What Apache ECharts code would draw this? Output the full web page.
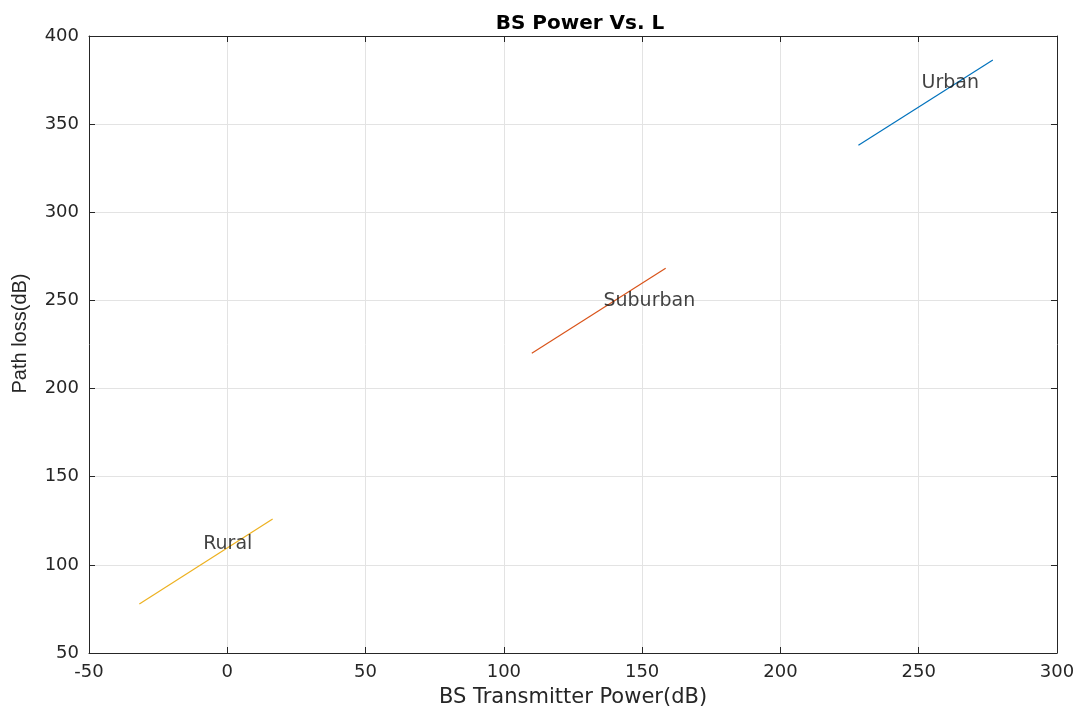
<!DOCTYPE html>
<html>
<head>
<meta charset="utf-8">
<script src="https://cdn.jsdelivr.net/npm/echarts@6/dist/echarts.min.js"></script>
<style>
  html, body { margin: 0; padding: 0; background: #fff; }
  #chart { width: 1078px; height: 709px; }
</style>
</head>
<body>
<div id="chart"></div>
<script>
// BS transmitter power vs. path loss, one short line per environment.

const areaNames = ["Urban", "Suburban", "Rural"];
const areaColors = ["#0072BD", "#D95319", "#EDB120"];

// [power (dB), path loss (dB)] end points
const urbanLine = [[228.2, 338.0], [276.8, 386.4]];
const suburbanLine = [[110.1, 220.0], [158.5, 268.2]];
const ruralLine = [[-31.8, 77.8], [16.4, 126.0]];

// where each text label sits (left edge, vertical middle)
const labelSpots = [[251, 373.3], [136, 249.8], [-8.7, 112]];

const xTicks = { min: -50, max: 300, interval: 50 };
const yTicks = { min: 50, max: 400, interval: 50 };

const textColor = "#262626";
const wideFont = "'DejaVu Sans', sans-serif";
const narrowFont = "'Liberation Sans', Arial, sans-serif";

const chart = echarts.init(document.getElementById("chart"));

function boxAxis(ticks, position, showLabels) {
  // One side of the MATLAB-style box: ticks point inward.
  return {
    type: "value",
    position,
    min: ticks.min,
    max: ticks.max,
    interval: ticks.interval,
    axisLine: { show: true, onZero: false, lineStyle: { color: textColor, width: 1 } },
    axisTick: { show: true, inside: true, length: 6, lineStyle: { color: textColor } },
    axisLabel: {
      show: showLabels,
      color: textColor,
      fontSize: 18,
      fontFamily: wideFont,
      margin: 10,
    },
    splitLine: { show: false },
  };
}

const xBottom = boxAxis(xTicks, "bottom", true);
xBottom.name = "BS Transmitter Power(dB)";
xBottom.nameLocation = "middle";
xBottom.nameGap = 34;
xBottom.nameTextStyle = { color: textColor, fontSize: 21, fontFamily: wideFont };
xBottom.splitLine = { show: true, lineStyle: { color: "#e3e3e3", width: 1 } };

const yLeft = boxAxis(yTicks, "left", true);
yLeft.name = "Path loss(dB)";
yLeft.nameLocation = "middle";
yLeft.nameGap = 59;
yLeft.nameTextStyle = {
  color: textColor,
  fontSize: 20,
  fontFamily: narrowFont,
  padding: [0, 0, 0, 22],
};
yLeft.splitLine = { show: true, lineStyle: { color: "#e3e3e3", width: 1 } };

const lines = [urbanLine, suburbanLine, ruralLine];

const lineSeries = lines.map((points, i) => ({
  name: areaNames[i],
  type: "line",
  data: points,
  showSymbol: false,
  symbol: "none",
  lineStyle: { color: areaColors[i], width: 1.2 },
  silent: true,
  z: 3,
}));

const labelSeries = {
  type: "scatter",
  data: labelSpots.map((p, i) => ({ value: p, name: areaNames[i] })),
  symbolSize: 0,
  silent: true,
  label: {
    show: true,
    position: "right",
    distance: 0,
    formatter: (p) => p.name,
    color: "#111",
    fontSize: 19,
    fontFamily: wideFont,
  },
  z: 4,
};

chart.setOption({
  backgroundColor: "#fff",
  animation: false,
  title: {
    text: "BS Power Vs. L",
    left: 575,
    textAlign: "center",
    top: 9,
    textStyle: { color: "#000", fontSize: 20, fontWeight: "bold", fontFamily: wideFont },
  },
  grid: { left: 89, right: 21, top: 36, bottom: 56, outerBoundsMode: "none" },
  xAxis: [xBottom, boxAxis(xTicks, "top", false)],
  yAxis: [yLeft, boxAxis(yTicks, "right", false)],
  series: [...lineSeries, labelSeries],
});
</script>
</body>
</html>
